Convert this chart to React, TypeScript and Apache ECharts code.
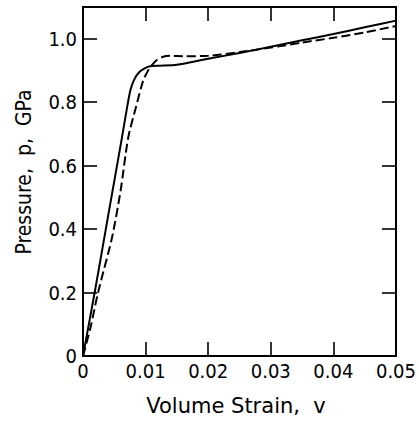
import React, { useEffect, useRef } from "react";
import * as echarts from "echarts";

const xTickLabels = ["0", "0.01", "0.02", "0.03", "0.04", "0.05"];
const yTickLabels = ["0", "0.2", "0.4", "0.6", "0.8", "1.0"];

const solidData: [number, number][] = [
  [0, 0], [0.002, 0.215], [0.004, 0.44], [0.0062, 0.686], [0.0071, 0.79],
  [0.0076, 0.84], [0.0082, 0.872], [0.009, 0.895], [0.01, 0.908], [0.0107, 0.913],
  [0.012, 0.915], [0.015, 0.918], [0.02, 0.937], [0.025, 0.955], [0.03, 0.975],
  [0.035, 0.995], [0.04, 1.015], [0.045, 1.036], [0.05, 1.057],
];

const dashedData: [number, number][] = [
  [0, 0], [0.0012, 0.09], [0.0024, 0.2], [0.0046, 0.37], [0.006, 0.52],
  [0.0072, 0.686], [0.0084, 0.78], [0.0096, 0.867], [0.0104, 0.9], [0.011, 0.917],
  [0.0118, 0.933], [0.0128, 0.943], [0.014, 0.946], [0.016, 0.945], [0.02, 0.946],
  [0.025, 0.958], [0.03, 0.972], [0.035, 0.988], [0.04, 1.003], [0.045, 1.02],
  [0.05, 1.04],
];

const FONT = "DejaVu Sans Condensed";

export default function App() {
  const ref = useRef<HTMLDivElement>(null);
  useEffect(() => {
    const chart = echarts.init(ref.current!, null, { renderer: "svg" });
    const xFmt = (v: number) => {
      const i = Math.round(v / 0.01);
      return Math.abs(v - i * 0.01) < 1e-9 && xTickLabels[i] !== undefined ? xTickLabels[i] : "";
    };
    const yFmt = (v: number) => {
      const i = Math.round(v / 0.2);
      return Math.abs(v - i * 0.2) < 1e-9 && yTickLabels[i] !== undefined ? yTickLabels[i] : "";
    };
    const axisLine = { show: true, onZero: false, lineStyle: { color: "#000", width: 2 } };
    const axisTick = { show: true, inside: true, length: 14, lineStyle: { color: "#000", width: 1.6 } };
    chart.setOption({
      animation: false,
      grid: { left: 83, right: 23, top: 7, bottom: 67 },
      xAxis: [
        {
          type: "value", min: 0, max: 0.05, interval: 0.01, position: "bottom",
          axisLine, axisTick, splitLine: { show: false },
          axisLabel: { formatter: xFmt, color: "#000", fontFamily: FONT, fontSize: 20, margin: 5 },
        },
        {
          type: "value", min: 0, max: 0.05, interval: 0.01, position: "top",
          axisLine, axisTick, splitLine: { show: false }, axisLabel: { show: false },
        },
      ],
      yAxis: [
        {
          type: "value", min: 0, max: 1.1, interval: 0.2, position: "left",
          axisLine, axisTick, splitLine: { show: false },
          axisLabel: { formatter: yFmt, color: "#000", fontFamily: FONT, fontSize: 20, margin: 6 },
        },
        {
          type: "value", min: 0, max: 1.1, interval: 0.2, position: "right",
          axisLine, axisTick, splitLine: { show: false }, axisLabel: { show: false },
        },
      ],
      graphic: [
        {
          type: "text", x: 236, y: 406,
          style: { text: "Volume Strain,  v", fill: "#000", font: `21px "DejaVu Sans"`, align: "center", verticalAlign: "middle" },
        },
        {
          type: "text", x: 24, y: 172, rotation: Math.PI / 2,
          style: { text: "Pressure,  p,  GPa", fill: "#000", font: `21px "${FONT}"`, align: "center", verticalAlign: "middle" },
        },
      ],
      series: [
        {
          type: "line", data: solidData, showSymbol: false, smooth: 0.25,
          lineStyle: { color: "#000", width: 2 },
        },
        {
          type: "line", data: dashedData, showSymbol: false, smooth: 0.25,
          lineStyle: { color: "#000", width: 2, type: [9, 4] },
        },
      ],
    });
    return () => chart.dispose();
  }, []);
  return <div ref={ref} style={{ position: "fixed", left: 0, top: 0, width: 419, height: 423, background: "#fff" }} />;
}
